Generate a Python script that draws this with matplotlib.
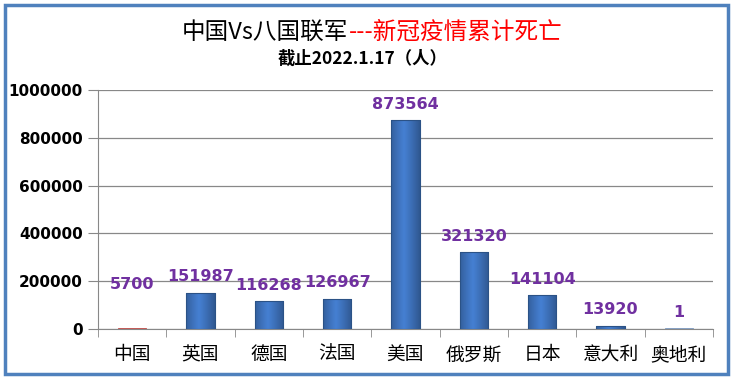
import matplotlib
matplotlib.use("Agg")
import matplotlib.pyplot as plt
import numpy as np
from matplotlib.patches import Rectangle

plt.rcParams['font.family'] = ['Noto Sans CJK SC', 'DejaVu Sans']

categories = ['中国', '英国', '德国', '法国', '美国', '俄罗斯', '日本', '意大利', '奥地利']
values = [5700, 151987, 116268, 126967, 873564, 321320, 141104, 13920, 1]
labels = ['5700', '151987', '116268', '126967', '873564', '321320', '141104', '13920', '1']
bar_colors = ['#C0504D'] + ['#3F74BF'] * 7 + ['#7F9BC0']
yticks = [0, 200000, 400000, 600000, 800000, 1000000]

fig = plt.figure(figsize=(7.36, 3.79), dpi=100)
ax = fig.add_axes([98/736, 1-329/379, (713-98)/736, (329-90)/379])

x = np.arange(len(categories))
disp = [max(v, 4000) for v in values]
bars = ax.bar(x, disp, width=0.41, color=bar_colors, edgecolor='#2B5286', linewidth=0.6, zorder=3)
bars[0].set_edgecolor('#C0504D')
bars[-1].set_edgecolor('#7F9BC0')

# horizontal gradient shading for bevel look
grad = np.linspace(0, 1, 64)
shade = 1 - 0.6 * np.abs(grad - 0.45) ** 1.1
for b, c in zip(bars[1:-1], bar_colors[1:-1]):
    x0, y0 = b.get_x(), b.get_y()
    w, h = b.get_width(), b.get_height()
    base = np.array(matplotlib.colors.to_rgb(c))
    img = np.clip(base[None, None, :] * shade[None, :, None] * 1.1, 0, 1)
    im = ax.imshow(img, extent=[x0, x0 + w, y0, y0 + h], aspect='auto', zorder=3.5, interpolation='bicubic')
    im.set_clip_path(b)
    ax.add_patch(Rectangle((x0, y0), w, h, fill=False, edgecolor='#2B5286', linewidth=0.8, zorder=4))

for i, (xi, v, lab) in enumerate(zip(x, values, labels)):
    off = 26 if i == 0 else 6
    ax.annotate(lab, (xi, max(v, 4000)), xytext=(0, off), textcoords='offset points',
                ha='center', va='bottom', color='#7030A0',
                fontsize=11.5, fontweight='bold', family=['DejaVu Sans'], zorder=5)

ax.set_xlim(-0.5, len(categories) - 0.5)
ax.set_ylim(0, 1000000)
ax.set_yticks(yticks)
ax.set_yticklabels([str(t) for t in yticks], fontsize=11, fontweight='bold', family=['DejaVu Sans'])
ax.set_xticks(x)
ax.set_xticklabels(categories, fontsize=13.5, fontweight='medium')
ax.tick_params(axis='x', length=0, pad=11)
ax.set_xticks(np.arange(-0.5, len(categories), 1), minor=True)
ax.tick_params(axis='x', which='minor', length=6, color='#888888', direction='out')
ax.tick_params(axis='y', length=7, color='#888888', pad=4)
ax.yaxis.grid(True, color='#888888', linewidth=0.9, zorder=0)
ax.set_axisbelow(True)
for s in ['top', 'right']:
    ax.spines[s].set_visible(False)
ax.spines['left'].set_color('#888888')
ax.spines['bottom'].set_color('#888888')

fig.text(0.4735, 1 - 32/379, '中国Vs八国联军', ha='right', va='center', fontsize=17, color='black')
fig.text(0.4735, 1 - 32/379, '---新冠疫情累计死亡', ha='left', va='center', fontsize=17, color='#FF0000')
fig.text(363/736, 1 - 59/379, '截止2022.1.17（人）', ha='center', va='center', fontsize=12.5, fontweight='bold', color='black')

fig.add_artist(Rectangle((5/736, 1 - 374/379), 723/736, 369/379, transform=fig.transFigure,
                         fill=False, edgecolor='#4F81BD', linewidth=2.5))

fig.savefig('out.png', dpi=100, facecolor='white')
